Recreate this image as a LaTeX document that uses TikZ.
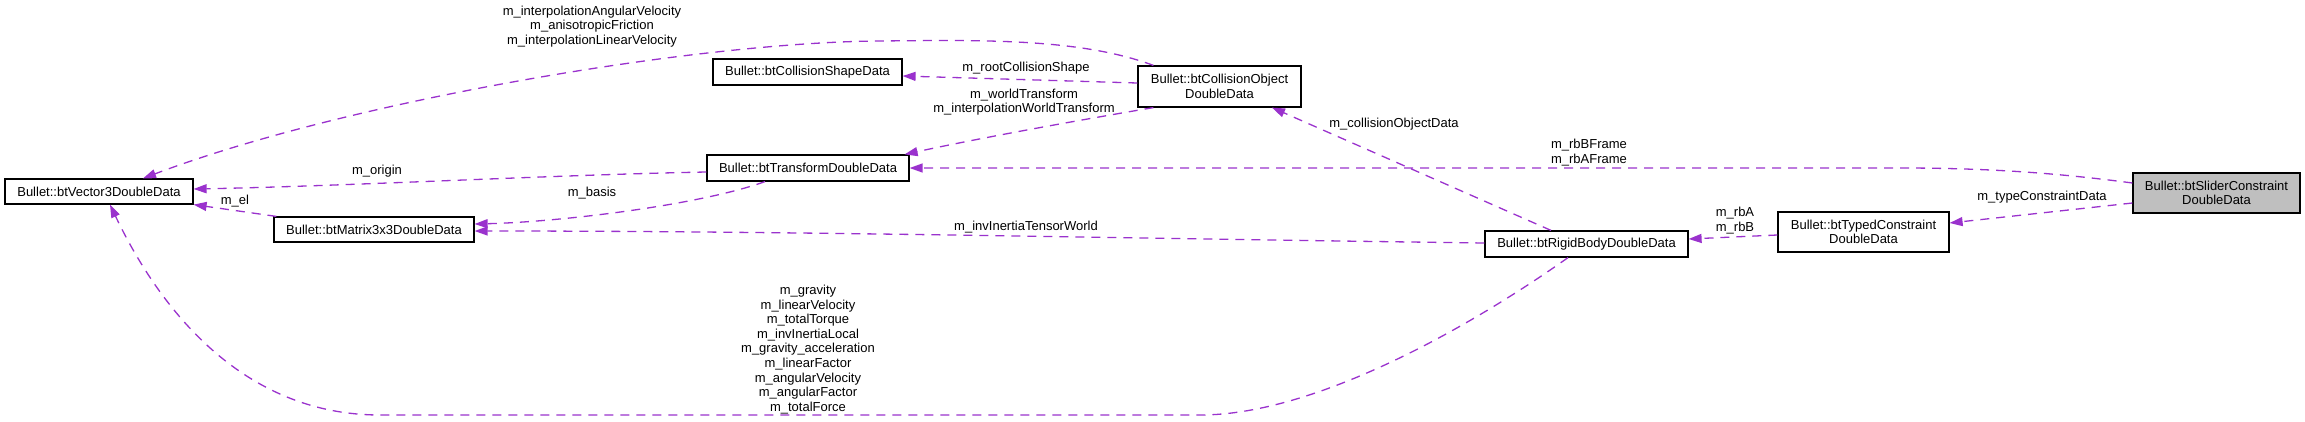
\documentclass[tikz,border=0pt]{standalone}
\usepackage{fontspec}
\setmainfont{Liberation Sans}
\usetikzlibrary{arrows.meta}
\definecolor{edgec}{HTML}{9A32CD}
\definecolor{grayfill}{HTML}{BFBFBF}
\tikzset{
  box/.style={draw=black, line width=1.2pt, inner sep=0pt, align=center,
    font=\fontsize{13}{14.6}\selectfont},
  lbl/.style={inner sep=0pt, align=center, font=\fontsize{13}{14.6}\selectfont},
  rel/.style={draw=edgec, line width=1.3pt, dash pattern=on 9pt off 7pt,
    -{Triangle[length=13pt,width=9pt,fill=edgec]}},
}
\begin{document}
\begin{tikzpicture}[x=1pt,y=-1pt]
\useasboundingbox (0,0) rectangle (2305,421);
% nodes
\node[box, minimum width=188pt, minimum height=25pt] (vec) at (99,191.5) {Bullet::btVector3DoubleData};
\node[box, minimum width=200pt, minimum height=25pt] (mat) at (374,229.5) {Bullet::btMatrix3x3DoubleData};
\node[box, minimum width=202pt, minimum height=26pt] (trans) at (808,168) {Bullet::btTransformDoubleData};
\node[box, minimum width=189pt, minimum height=26pt] (shape) at (807.5,72) {Bullet::btCollisionShapeData};
\node[box, minimum width=163pt, minimum height=41pt] (colobj) at (1219.5,86.5) {Bullet::btCollisionObject\\DoubleData};
\node[box, minimum width=203pt, minimum height=26pt] (rigid) at (1586.5,244) {Bullet::btRigidBodyDoubleData};
\node[box, minimum width=171pt, minimum height=40pt] (typed) at (1863.5,232) {Bullet::btTypedConstraint\\DoubleData};
\node[box, fill=grayfill, minimum width=167pt, minimum height=40pt] (slider) at (2216.5,193) {Bullet::btSliderConstraint\\DoubleData};
% edges
\draw[rel] ([xshift=16pt]colobj.north west) .. controls (1080,38) and (980,40) .. (880,41)
  .. controls (700,42) and (350,100) .. ([xshift=44pt]vec.north);
\draw[rel] ([yshift=3.5pt]colobj.west) -- ([yshift=-4pt]shape.east);
\draw[rel] ([xshift=16pt]colobj.south west) .. controls (1080,120) and (980,138) .. ([xshift=-5pt]trans.north east);
\draw[rel] ([yshift=10pt]slider.west) .. controls (2050,172) and (1980,168) .. (1900,168) -- (trans.east);
\draw[rel] ([xshift=-35.5pt]rigid.north) -- ([xshift=52.5pt]colobj.south);
\draw[rel] ([yshift=-3pt]typed.west) -- ([yshift=5pt]rigid.east);
\draw[rel] ([yshift=-10pt]slider.west) -- ([yshift=9pt]typed.east);
\draw[rel] ([yshift=1pt]rigid.west) .. controls (1100,238) and (800,231) .. ([yshift=-1.5pt]mat.east);
\draw[rel] ([xshift=-43pt]trans.south) .. controls (700,205) and (560,222) .. ([yshift=5.5pt]mat.east);
\draw[rel] ([yshift=-4pt]trans.west) .. controls (550,175) and (350,186) .. ([yshift=2.5pt]vec.east);
\draw[rel] ([xshift=3pt]mat.north west) -- (vec.south east);
\draw[rel] ([xshift=-18.5pt]rigid.south) .. controls (1480,320) and (1320,415) .. (1200,415)
  -- (380,415) .. controls (250,415) and (165,320) .. ([xshift=11pt]vec.south);
% labels
\node[lbl] (la) at (592,26.5) {m\_interpolationAngularVelocity\\m\_anisotropicFriction\\m\_interpolationLinearVelocity};
\node[lbl] (lb) at (1026,68) {m\_rootCollisionShape};
\node[lbl] (lc) at (1024,102) {m\_worldTransform\\m\_interpolationWorldTransform};
\node[lbl] (ld) at (1589,152.5) {m\_rbBFrame\\m\_rbAFrame};
\node[lbl] (le) at (1394,124) {m\_collisionObjectData};
\node[lbl] (lf) at (1735,220.5) {m\_rbA\\m\_rbB};
\node[lbl] (lg) at (2042,197) {m\_typeConstraintData};
\node[lbl] (lh) at (1026,227) {m\_invInertiaTensorWorld};
\node[lbl] (li) at (592,193) {m\_basis};
\node[lbl] (lj) at (377,171) {m\_origin};
\node[lbl] (lk) at (235,201) {m\_el};
\node[lbl] (ll) at (808,349.5) {m\_gravity\\m\_linearVelocity\\m\_totalTorque\\m\_invInertiaLocal\\m\_gravity\_acceleration\\m\_linearFactor\\m\_angularVelocity\\m\_angularFactor\\m\_totalForce};
\end{tikzpicture}
\end{document}
